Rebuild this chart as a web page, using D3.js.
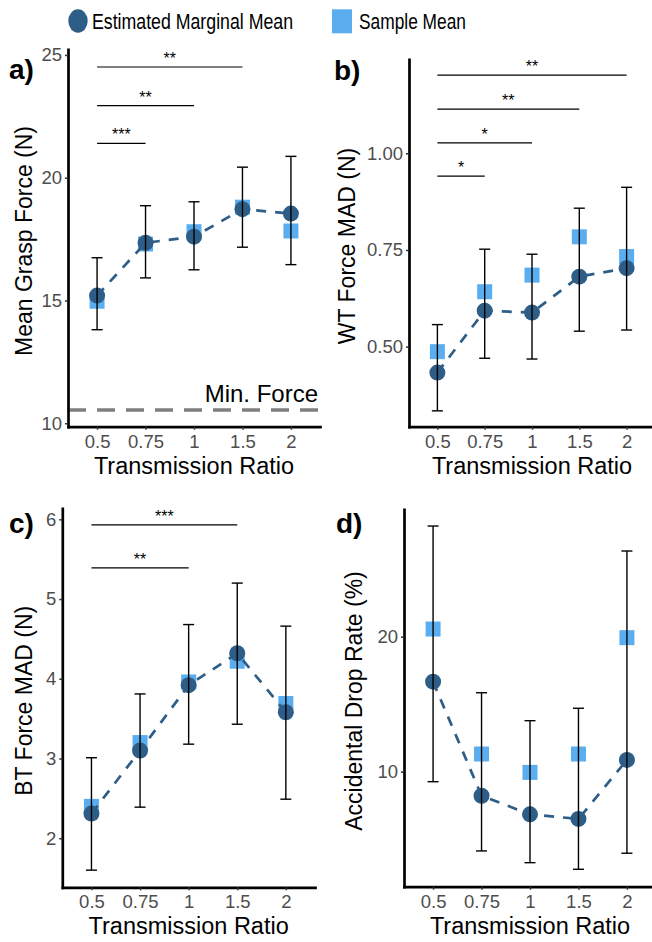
<!DOCTYPE html>
<html>
<head>
<meta charset="utf-8">
<script src="https://cdn.jsdelivr.net/npm/d3@7"></script>
<style>
  body { margin: 0; background: #fff; }
  text { font-family: "Liberation Sans", Arial, sans-serif; }
</style>
</head>
<body>
<script>
// transmission ratios (x categories)
var ratios = ['0.5', '0.75', '1', '1.5', '2'];

// a) mean grasp force
var graspEmm = [15.2, 17.35, 17.6, 18.72, 18.54];
var graspSample = [14.97, 17.3, 17.8, 18.8, 17.83];
var graspLo = [13.81, 15.92, 16.25, 17.17, 16.46];
var graspHi = [16.74, 18.86, 19.02, 20.43, 20.87];
var graspTicks = [10, 15, 20, 25];
var graspSig = [['0.5', '0.75', 21.4, '***'], ['0.5', '1', 22.94, '**'], ['0.5', '1.5', 24.51, '**']];
var minForce = 10.54;

// b) WT force MAD
var wtEmm = [0.433, 0.593, 0.588, 0.681, 0.703];
var wtSample = [0.487, 0.642, 0.685, 0.784, 0.733];
var wtLo = [0.334, 0.470, 0.468, 0.540, 0.543];
var wtHi = [0.557, 0.752, 0.739, 0.858, 0.912];
var wtTicks = [0.5, 0.75, 1.0];
var wtSig = [['0.5', '0.75', 0.941, '*'], ['0.5', '1', 1.027, '*'], ['0.5', '1.5', 1.114, '**'], ['0.5', '2', 1.202, '**']];

// c) BT force MAD
var btEmm = [2.31, 3.10, 3.92, 4.32, 3.58];
var btSample = [2.40, 3.20, 3.96, 4.22, 3.69];
var btLo = [1.60, 2.39, 3.18, 3.43, 2.49];
var btHi = [3.01, 3.81, 4.68, 5.20, 4.66];
var btTicks = [2, 3, 4, 5, 6];
var btSig = [['0.5', '1', 5.39, '**'], ['0.5', '1.5', 5.93, '***']];

// d) accidental drop rate
var dropEmm = [16.67, 8.22, 6.84, 6.50, 10.87];
var dropSample = [20.57, 11.31, 9.95, 11.31, 19.93];
var dropLo = [9.26, 4.13, 3.26, 2.77, 3.96];
var dropHi = [28.2, 15.85, 13.78, 14.70, 26.35];
var dropTicks = [10, 20];

var emmColor = '#2e5e87',
  sampleColor = '#5aaeef';

var svg = d3.select('body').append('svg')
  .attr('width', 652)
  .attr('height', 942);

// legend
var legend = svg.append('g');
legend.append('ellipse').attr('cx', 78).attr('cy', 21).attr('rx', 9.7).attr('ry', 11.7).attr('fill', emmColor);
legend.append('text').attr('x', 92).attr('y', 28.5).text('Estimated Marginal Mean')
  .attr('textLength', 201).attr('lengthAdjust', 'spacingAndGlyphs')
  .style('font-size', '22.5px');
legend.append('rect').attr('x', 332).attr('y', 9.3).attr('width', 20).attr('height', 24).attr('fill', sampleColor);
legend.append('text').attr('x', 359).attr('y', 28.5).text('Sample Mean')
  .attr('textLength', 107).attr('lengthAdjust', 'spacingAndGlyphs')
  .style('font-size', '22.5px');

drawPanel({
  tag: 'a)', tagX: 9, tagY: 79,
  left: 68, right: 320, top: 49.3, bottom: 426.7, domain: [9.86, 25.23],
  emm: graspEmm, sample: graspSample, lo: graspLo, hi: graspHi,
  ticks: graspTicks, fmt: d3.format('d'), sig: graspSig,
  title: 'Mean Grasp Force (N)', titleX: 32
});

drawPanel({
  tag: 'b)', tagX: 334, tagY: 80,
  left: 409, right: 655, top: 59.3, bottom: 426.7, domain: [0.293, 1.243],
  emm: wtEmm, sample: wtSample, lo: wtLo, hi: wtHi,
  ticks: wtTicks, fmt: d3.format('.2f'), sig: wtSig,
  title: 'WT Force MAD (N)', titleX: 355
});

drawPanel({
  tag: 'c)', tagX: 9, tagY: 533,
  left: 62.3, right: 315, top: 508.3, bottom: 887.3, domain: [1.385, 6.138],
  emm: btEmm, sample: btSample, lo: btLo, hi: btHi,
  ticks: btTicks, fmt: d3.format('d'), sig: btSig,
  title: 'BT Force MAD (N)', titleX: 32
});

drawPanel({
  tag: 'd)', tagX: 336, tagY: 533,
  left: 404, right: 656, top: 509.3, bottom: 886.7, domain: [1.48, 29.44],
  emm: dropEmm, sample: dropSample, lo: dropLo, hi: dropHi,
  ticks: dropTicks, fmt: d3.format('d'), sig: [],
  title: 'Accidental Drop Rate (%)', titleX: 362
});

function drawPanel(p) {
  var g = svg.append('g');

  var x = d3.scalePoint().domain(ratios).range([p.left, p.right]).padding(0.6);
  var y = d3.scaleLinear().domain(p.domain).range([p.bottom, p.top]);

  var rows = ratios.map(function (r, i) {
    return { r: r, emm: p.emm[i], sample: p.sample[i], lo: p.lo[i], hi: p.hi[i] };
  });

  // min force reference
  if (p.tag === 'a)') {
    g.append('line')
      .attr('x1', p.left).attr('x2', p.right)
      .attr('y1', y(minForce)).attr('y2', y(minForce))
      .attr('stroke', '#7f7f7f').attr('stroke-width', 3.5)
      .attr('stroke-dasharray', '18,11');
    g.append('text')
      .attr('x', p.right - 2).attr('y', y(minForce) - 8)
      .attr('text-anchor', 'end')
      .style('font-size', '24px')
      .text('Min. Force');
  }

  // significance bars
  p.sig.forEach(function (s) {
    g.append('line')
      .attr('x1', x(s[0])).attr('x2', x(s[1]))
      .attr('y1', y(s[2])).attr('y2', y(s[2]))
      .attr('stroke', '#000').attr('stroke-width', 1.2);
    g.append('text')
      .attr('x', (x(s[0]) + x(s[1])) / 2).attr('y', y(s[2]) - 3)
      .attr('text-anchor', 'middle')
      .style('font-size', '16px')
      .text(s[3]);
  });

  // sample means
  g.selectAll('rect.sample').data(rows).enter().append('rect')
    .attr('class', 'sample')
    .attr('x', function (d) { return x(d.r) - 7.5; })
    .attr('y', function (d) { return y(d.sample) - 7.5; })
    .attr('width', 15).attr('height', 15)
    .attr('fill', sampleColor);

  // estimated marginal means
  g.selectAll('circle.emm').data(rows).enter().append('circle')
    .attr('class', 'emm')
    .attr('cx', function (d) { return x(d.r); })
    .attr('cy', function (d) { return y(d.emm); })
    .attr('r', 8)
    .attr('fill', emmColor);

  var line = d3.line()
    .x(function (d) { return x(d.r); })
    .y(function (d) { return y(d.emm); });

  g.append('path').datum(rows)
    .attr('d', line)
    .attr('fill', 'none')
    .attr('stroke', emmColor).attr('stroke-width', 2.7)
    .attr('stroke-dasharray', '10,9');

  // error bars
  var eb = g.selectAll('g.eb').data(rows).enter().append('g')
    .attr('stroke', '#000').attr('stroke-width', 1.4);
  eb.append('line')
    .attr('x1', function (d) { return x(d.r); }).attr('x2', function (d) { return x(d.r); })
    .attr('y1', function (d) { return y(d.lo); }).attr('y2', function (d) { return y(d.hi); });
  eb.append('line')
    .attr('x1', function (d) { return x(d.r) - 5.5; }).attr('x2', function (d) { return x(d.r) + 5.5; })
    .attr('y1', function (d) { return y(d.lo); }).attr('y2', function (d) { return y(d.lo); });
  eb.append('line')
    .attr('x1', function (d) { return x(d.r) - 5.5; }).attr('x2', function (d) { return x(d.r) + 5.5; })
    .attr('y1', function (d) { return y(d.hi); }).attr('y2', function (d) { return y(d.hi); });

  // axes
  var ya = g.append('g')
    .attr('transform', 'translate(' + p.left + ',0)')
    .call(d3.axisLeft(y).tickValues(p.ticks).tickFormat(p.fmt).tickSize(3).tickSizeOuter(0).tickPadding(3));
  var xa = g.append('g')
    .attr('transform', 'translate(0,' + p.bottom + ')')
    .call(d3.axisBottom(x).tickSize(3).tickSizeOuter(0).tickPadding(5));

  [ya, xa].forEach(function (a) {
    a.select('.domain').attr('stroke', '#000').attr('stroke-width', 2.7).attr('stroke-linecap', 'square');
    a.selectAll('.tick line').attr('stroke', '#333').attr('stroke-width', 1.5);
    a.selectAll('.tick text').attr('fill', '#4d4d4d')
      .style('font-size', '18.5px').style('font-family', '"Liberation Sans", Arial, sans-serif');
  });

  // axis titles
  g.append('text')
    .attr('x', (p.left + p.right) / 2).attr('y', p.bottom + 47)
    .attr('text-anchor', 'middle')
    .style('font-size', '23.5px')
    .text('Transmission Ratio');
  g.append('text')
    .attr('transform', 'translate(' + p.titleX + ',' + ((p.top + p.bottom) / 2 + 3) + ') rotate(-90)')
    .attr('text-anchor', 'middle')
    .style('font-size', '23px')
    .text(p.title);

  // panel tag
  g.append('text')
    .attr('x', p.tagX).attr('y', p.tagY)
    .style('font-size', '28px').style('font-weight', 'bold')
    .text(p.tag);
}
</script>
</body>
</html>
